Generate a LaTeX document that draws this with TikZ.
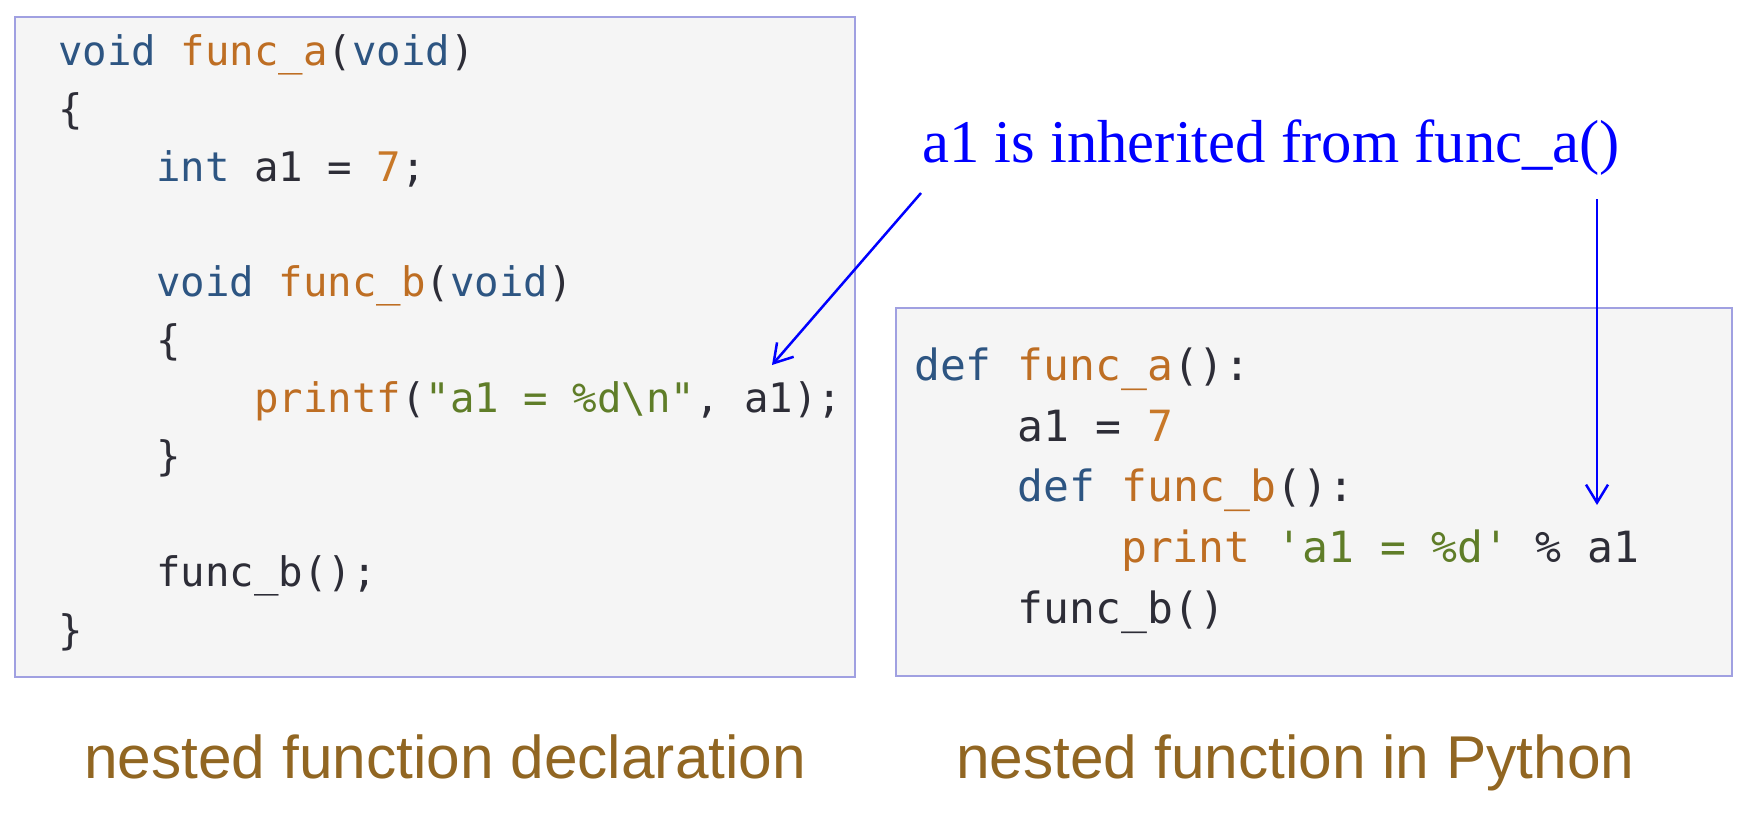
\documentclass[tikz,border=0pt]{standalone}
\usepackage{fontspec}
\setmonofont{DejaVu Sans Mono}
\newfontfamily\capfont{Liberation Sans}
\newfontfamily\notefont{Liberation Serif}
\usetikzlibrary{arrows.meta}

\definecolor{boxline}{RGB}{160,160,225}
\definecolor{boxfill}{RGB}{245,245,245}
\definecolor{kwblue}{RGB}{45,85,130}
\definecolor{fnbrown}{RGB}{190,110,35}
\definecolor{numorange}{RGB}{200,120,40}
\definecolor{strgreen}{RGB}{95,125,40}
\definecolor{plaintext}{RGB}{45,45,55}
\definecolor{captext}{RGB}{145,102,34}
\newcommand{\ckw}[1]{\textcolor{kwblue}{#1}}
\newcommand{\cfn}[1]{\textcolor{fnbrown}{#1}}
\newcommand{\cnum}[1]{\textcolor{numorange}{#1}}
\newcommand{\cstr}[1]{\textcolor{strgreen}{#1}}

\begin{document}
\begin{tikzpicture}[x=1pt, y=-1pt,
		codebox/.style={draw=boxline, fill=boxfill, line width=2pt},
		cline/.style={anchor=base west, inner sep=0pt, text=plaintext, font=\ttfamily\fontsize{40.7}{48}\selectfont},
		pline/.style={cline, font=\ttfamily\fontsize{43}{51}\selectfont},
		caption/.style={anchor=base west, inner sep=0pt, text=captext, font=\capfont\fontsize{60.4}{70}\selectfont},
		note/.style={anchor=base west, inner sep=0pt, text=blue, font=\notefont\fontsize{60.7}{70}\selectfont},
		inh/.style={draw=blue, line width=2.5pt, -{Straight Barb[length=18pt, width=22pt]}}]
				\useasboundingbox (0, 0) rectangle (1750, 812);
				% code boxes
				\draw[codebox] (14.5, 16.5) rectangle (855, 677);
				\draw[codebox] (896, 307.5) rectangle (1731.5, 675.5);
				% C version
				\node[cline] (c1)at(58, 65) {\ckw{void} \cfn{func\_a}(\ckw{void})};
				\node[cline] (c2)at(58, 123) {\{};
				\node[cline] (c3)at(156, 181) {\ckw{int} a1 = \cnum{7};};
				\node[cline] (c5)at(156, 296.6) {\ckw{void} \cfn{func\_b}(\ckw{void})};
				\node[cline] (c6)at(156, 354.5) {\{};
				\node[cline] (c7)at(254, 412.4) {\cfn{printf}(\cstr{"a1 = \%d\textbackslash n"}, a1);};
				\node[cline] (c8)at(156, 470.3) {\}};
				\node[cline] (c10)at(156, 586) {func\_b();};
				\node[cline] (c11)at(58, 644) {\}};
				% Python version
				\node[pline] (p1)at(914, 380) {\ckw{def} \cfn{func\_a}():};
				\node[pline] (p2)at(1017.6, 441) {a1 = \cnum{7}};
				\node[pline] (p3)at(1017.6, 501.5) {\ckw{def} \cfn{func\_b}():};
				\node[pline] (p4)at(1121, 562) {\cfn{print} \cstr{\textquotesingle a1 = \%d\textquotesingle} \% a1};
				\node[pline] (p5)at(1017.6, 623) {func\_b()};
				% note and arrows
				\node[note] (lbl)at(922, 162) {a1 is inherited from func\_a()};
				\coordinate (s1) at (921, 193);
				\coordinate (t1) at (772, 365);
				\coordinate (s2) at (1597, 199);
				\coordinate (t2) at (1597, 505);
				\draw[inh] (s1) -- (t1);
				\draw[inh] (s2) -- (t2);
				% captions
				\node[caption] (capC)at(84, 778) {nested function declaration};
				\node[caption] (capPy)at(956, 778) {nested function in Python};
			\end{tikzpicture}
\end{document}
